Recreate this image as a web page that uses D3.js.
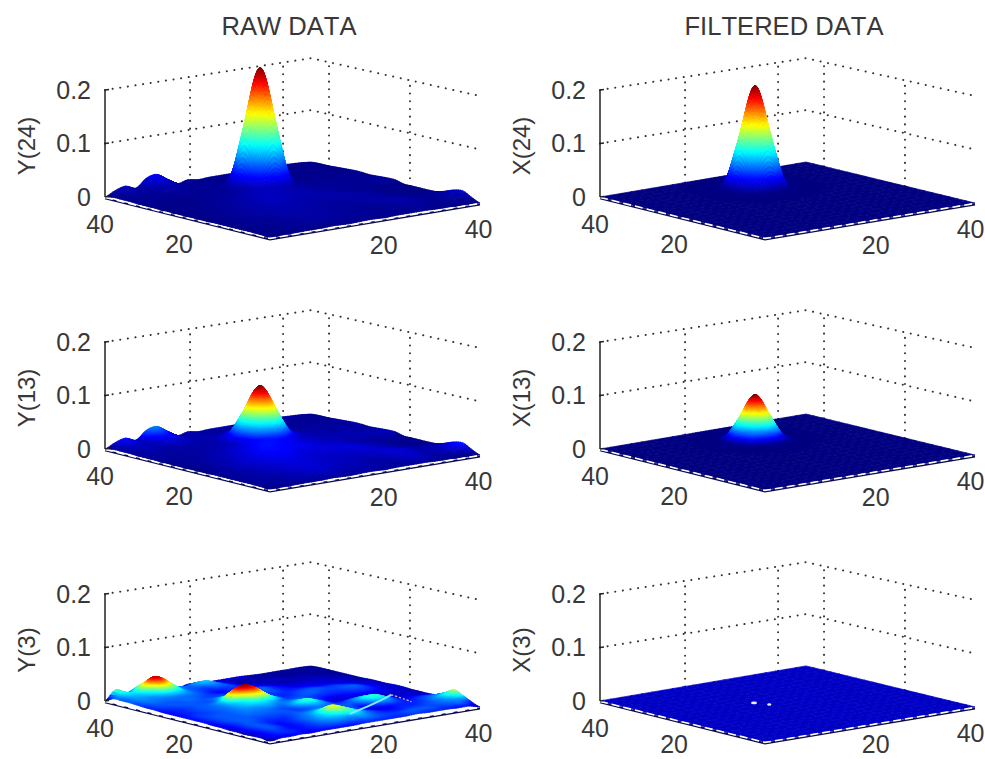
<!DOCTYPE html>
<html><head><meta charset="utf-8">
<script src="https://cdn.jsdelivr.net/npm/d3@7/dist/d3.min.js"></script>
<style>html,body{margin:0;background:#fff}svg{display:block}text{font-family:"Liberation Sans",Arial,sans-serif;fill:#383838;font-kerning:none}</style>
</head><body><div id="chart"></div>
<script>
// ---- data: surface heights, in thousandths, rows along the left floor edge, columns along the right floor edge
const columnTitles = ["RAW DATA", "FILTERED DATA"];
const rawLabels = ["Y(24)", "Y(13)", "Y(3)"];
const filteredLabels = ["X(24)", "X(13)", "X(3)"];
const zTicks = [0, 0.1, 0.2];
const zTickLabels = ["0", "0.1", "0.2"];
const floorTicks = [20, 40];
const floorUDomain = [2.7, 44.45];
const floorVDomain = [1.72, 46.0];

const rawBackground = [
[0,1,1,2,2,2,3,2,2,3,3,2,3,3,3,3,2,2,1,1,0],
[1,2,3,3,4,4,5,5,4,4,5,4,4,3,4,5,4,3,3,4,7],
[2,3,3,4,5,6,7,7,6,5,5,4,4,4,5,7,6,4,5,9,15],
[2,3,3,4,5,6,8,8,7,6,6,5,4,4,6,8,7,5,5,8,13],
[2,3,4,5,6,7,8,9,8,7,6,6,5,6,7,9,8,5,4,5,7],
[2,3,4,5,6,8,9,9,8,7,7,6,6,7,8,8,6,4,3,3,2],
[2,3,4,5,7,8,9,10,9,8,7,7,7,8,8,7,5,3,2,1,1],
[2,3,4,6,7,9,10,11,10,9,8,8,8,9,9,7,5,3,2,1,1],
[1,3,4,6,8,9,11,12,12,10,9,9,9,9,8,6,4,3,2,2,1],
[1,2,4,5,7,9,11,13,13,12,10,10,9,8,7,5,4,3,3,3,1],
[1,2,3,5,6,8,10,13,14,13,12,11,9,7,6,5,4,4,4,5,5],
[1,2,3,4,5,7,9,12,14,14,13,11,9,7,6,5,5,5,5,5,5],
[1,2,3,3,5,6,8,10,12,13,12,10,8,6,5,5,5,5,4,4,4],
[1,2,3,3,4,5,6,8,10,10,10,9,7,5,5,4,4,4,4,3,3],
[2,3,3,3,3,4,5,6,7,8,8,7,6,5,4,4,4,3,3,3,4],
[2,3,3,3,3,4,4,5,6,6,6,6,5,5,4,3,3,3,3,3,4],
[2,4,4,3,4,4,4,4,5,5,5,5,4,4,3,3,3,3,3,3,3],
[3,4,5,4,5,6,5,4,4,4,4,4,3,3,3,3,3,2,2,2,2],
[3,5,6,5,8,10,7,4,4,3,3,3,3,3,3,3,2,2,2,2,1],
[3,7,9,6,13,16,9,4,4,3,3,3,3,3,3,3,3,3,2,2,1],
[0,9,14,7,22,26,14,2,6,3,4,4,4,4,4,5,5,4,3,2,0]
];
const rawY3 = [
[0,4,4,5,4,5,5,5,5,6,6,6,6,6,7,6,6,6,5,5,0],
[3,5,6,6,5,6,7,8,8,8,9,8,7,7,8,8,8,7,8,9,6],
[3,5,7,6,5,6,8,10,11,11,12,9,7,6,6,7,7,8,9,11,14],
[2,5,8,7,5,6,8,11,14,18,17,11,7,5,5,6,6,7,9,14,21],
[3,6,8,7,5,6,8,10,15,24,18,10,6,4,5,6,6,6,8,10,12],
[3,6,8,7,6,6,7,9,11,14,12,9,7,5,10,11,7,5,6,6,4],
[4,6,8,8,7,7,7,8,8,9,9,8,8,9,15,16,9,4,3,3,2],
[4,7,8,8,8,8,8,8,7,9,11,9,6,8,11,11,6,3,3,3,2],
[5,7,8,8,9,9,9,8,8,13,17,11,5,3,4,4,3,3,3,3,2],
[5,7,8,8,9,10,10,11,9,10,12,9,6,4,4,5,5,5,4,3,3],
[5,7,7,8,9,11,13,14,13,9,8,8,7,6,6,6,7,7,5,3,3],
[5,6,7,8,9,12,16,24,24,14,7,7,8,8,7,7,8,8,5,3,2],
[5,6,7,8,9,14,30,38,30,12,7,6,7,8,8,7,7,6,4,3,2],
[5,6,7,8,8,9,16,20,13,8,7,7,6,6,6,5,5,4,3,2,2],
[6,7,8,8,8,8,9,9,8,7,8,8,6,5,4,4,3,3,3,2,1],
[6,8,8,8,9,8,7,7,6,6,7,8,6,4,3,3,3,3,2,2,1],
[7,9,9,9,9,9,8,6,5,6,6,5,4,3,2,2,2,2,2,1,1],
[8,10,10,11,13,12,9,7,6,7,7,4,3,2,2,2,2,2,1,1,1],
[8,11,12,16,24,20,10,8,8,10,7,3,2,2,2,2,1,1,1,1,1],
[8,14,14,24,36,28,12,8,11,12,6,3,2,2,1,1,1,1,1,1,1],
[0,18,8,16,24,26,8,1,5,4,3,3,3,3,2,1,1,1,1,1,0]
];
// the bump of each panel, a 7x7 block of the same grid
const peakRow = 12, peakCol = 8;
const peakY24 = [[0,1,1,2,1,1,0],[1,2,10,22,10,2,1],[1,10,92,145,92,10,1],[2,22,145,222,145,22,2],[1,10,92,145,92,10,1],[1,2,10,22,10,2,1],[0,1,1,2,1,1,0]];
const peakY13 = [[1,1,2,3,2,1,1],[1,3,11,18,11,3,1],[2,11,43,66,43,11,2],[3,18,66,97,66,18,3],[2,11,43,66,43,11,2],[1,3,11,18,11,3,1],[1,1,2,3,2,1,1]];
const peakX24 = [[0,0,1,1,1,0,0],[0,2,9,18,9,2,0],[1,9,78,122,78,9,1],[1,18,122,194,122,18,1],[1,9,78,122,78,9,1],[0,2,9,18,9,2,0],[0,0,1,1,1,0,0]];
const peakX13 = [[0,0,0,1,0,0,0],[0,1,5,9,5,1,0],[0,5,34,54,34,5,0],[1,9,54,86,54,9,1],[0,5,34,54,34,5,0],[0,1,5,9,5,1,0],[0,0,0,1,0,0,0]];
const colourTopX3 = 3;       // X(3) has no peak of its own: the colour range is a little above its floor
const floorX3 = 0.2;
// white glints on X(3), and the thin trace on Y(3), as grid positions
const glintRowsX3 = [11.9, 10.7];
const glintColsX3 = [8.4, 8.9];
const traceRowsY3 = [3.4, 5, 6.9];
const traceColsY3 = [10.3, 13.8, 17.1];
const traceEndRowsY3 = [6.9, 5.4, 3.9];
const traceEndColsY3 = [17.1, 16.9, 16.6];
const rightColumnLabelShift = [0, -3];

// ---- build
const W = 985, H = 759, N = 20;
const columnOffsets = [0, 495], rowOffsets = [0, 252, 504];
const svg = d3.select("#chart").append("svg").attr("width", W).attr("height", H);

const xU = d3.scaleLinear().domain([0, 1]).range([0, -165]);
const yU = d3.scaleLinear().domain([0, 1]).range([0, -41]);
const xV = d3.scaleLinear().domain([0, 1]).range([0, 210]);
const yV = d3.scaleLinear().domain([0, 1]).range([0, -35]);
const zS = d3.scaleLinear().domain([0, 0.2]).range([0, -107]);
const tickU = d3.scaleLinear().domain(floorUDomain).range([0, 1]);
const tickV = d3.scaleLinear().domain(floorVDomain).range([0, 1]);
const gridF = d3.scaleLinear().domain([0, N]).range([0, 1]);
const OX = 270, OY = 238;
// slight perspective: the far corner sits a little nearer and lower
const proj = (fu, fv, z) => [
  OX + xU(fu) + xV(fv) - 4 * fu * fv,
  OY + yU(fu) + yV(fv) + zS(z) * (1 - 0.03 * fu * fv)
];
const line = d3.line();

const jet = d3.scaleLinear()
  .domain([0, 0.125, 0.375, 0.625, 0.875, 1])
  .range(["#000080", "#0000ff", "#00ffff", "#ffff00", "#ff0000", "#800000"])
  .clamp(true);

function withPeak(base, peak) {
  const m = base.map(r => r.slice());
  peak.forEach((r, a) => r.forEach((v, b) => { m[peakRow + a][peakCol + b] += v; }));
  return m;
}
const flat = v => d3.range(N + 1).map(() => d3.range(N + 1).map(() => v));

const panels = [
  {col: 0, row: 0, label: rawLabels[0], m: withPeak(rawBackground, peakY24)},
  {col: 0, row: 1, label: rawLabels[1], m: withPeak(rawBackground, peakY13)},
  {col: 0, row: 2, label: rawLabels[2], m: rawY3},
  {col: 1, row: 0, label: filteredLabels[0], m: withPeak(flat(0), peakX24)},
  {col: 1, row: 1, label: filteredLabels[1], m: withPeak(flat(0), peakX13)},
  {col: 1, row: 2, label: filteredLabels[2], m: flat(floorX3), top: colourTopX3}
];

const cr = (p0, p1, p2, p3, t) =>
  0.5 * (2 * p1 + (p2 - p0) * t + (2 * p0 - 5 * p1 + 4 * p2 - p3) * t * t + (3 * p1 - p0 - 3 * p2 + p3) * t * t * t);

function sampler(m) {
  const at = (i, j) => m[Math.max(0, Math.min(N, i))][Math.max(0, Math.min(N, j))];
  return (a, b) => {
    const i = Math.min(N - 1, Math.floor(a)), j = Math.min(N - 1, Math.floor(b));
    const s = a - i, t = b - j;
    const rows = [-1, 0, 1, 2].map(d => cr(at(i + d, j - 1), at(i + d, j), at(i + d, j + 1), at(i + d, j + 2), t));
    return Math.max(0, cr(rows[0], rows[1], rows[2], rows[3], s));
  };
}

function cellsOf(m, top) {
  const h = sampler(m), cells = [];
  for (let i = 0; i < N; i++) for (let j = 0; j < N; j++) {
    const near = [];
    for (let a = -1; a <= 2; a++) for (let b = -1; b <= 2; b++)
      near.push(m[Math.max(0, Math.min(N, i + a))][Math.max(0, Math.min(N, j + b))]);
    const [lo, hi] = d3.extent(near);
    const S = hi - lo < 0.01 ? 1 : hi - lo > 18 ? 12 : 4;
    for (let a = 0; a < S; a++) for (let b = 0; b < S; b++) {
      const a0 = i + a / S, a1 = i + (a + 1) / S, b0 = j + b / S, b1 = j + (b + 1) / S;
      const q = [[a0, b0], [a1, b0], [a1, b1], [a0, b1]].map(([p, r]) => ({p, r, z: h(p, r)}));
      cells.push({depth: a0 + b0, q, c: d3.mean(q, d => d.z) / top});
    }
  }
  return cells.sort((x, y) => y.depth - x.depth);
}

panels.forEach(P => {
  const g = svg.append("g").attr("transform", `translate(${columnOffsets[P.col]},${rowOffsets[P.row]})`);
  const dotted = sel => sel.attr("fill", "none").attr("stroke", "#333").attr("stroke-width", 2)
    .attr("stroke-linecap", "round").attr("stroke-dasharray", "0.1 7.6");
  // floor labels stay inside the picture, descent included
  const lowest = H - 6 - rowOffsets[P.row];

  // back walls
  g.selectAll("path.wallZ").data(zTicks.filter(z => z > 0)).join("path").attr("class", "wallZ")
    .attr("d", z => line([proj(1, 0, z), proj(1, 1, z), proj(0, 1, z)])).call(dotted);
  g.selectAll("path.wallV").data(floorTicks).join("path").attr("class", "wallV")
    .attr("d", t => line([proj(1, tickV(t), 0), proj(1, tickV(t), 0.2)])).call(dotted);
  g.selectAll("path.wallU").data(floorTicks).join("path").attr("class", "wallU")
    .attr("d", t => line([proj(tickU(t), 1, 0), proj(tickU(t), 1, 0.2)])).call(dotted);

  // surface
  const top = P.top || d3.max(P.m.flat());
  g.append("g").selectAll("path").data(cellsOf(P.m, top)).join("path")
    .attr("d", d => line(d.q.map(v => proj(gridF(v.p), gridF(v.r), v.z / 1000))) + "Z")
    .attr("fill", d => jet(d.c)).attr("stroke", d => jet(d.c)).attr("stroke-width", 0.7);

  // front edges: a dark rim with white dashes just inside it
  const front = [proj(1, 0, 0), proj(0, 0, 0), proj(0, 1, 0)];
  g.append("path").attr("d", line(front)).attr("transform", "translate(0,1.4)")
    .attr("fill", "none").attr("stroke", "#0a0a50").attr("stroke-width", 2);
  g.append("path").attr("d", line(front)).attr("transform", "translate(0,0.4)")
    .attr("fill", "none").attr("stroke", "#fff").attr("stroke-width", 1.6).attr("stroke-dasharray", "8 4");

  // vertical axis
  g.append("path").attr("d", line([proj(1, 0, 0), proj(1, 0, 0.2)]))
    .attr("stroke", "#222").attr("stroke-width", 1.5).attr("fill", "none");
  g.selectAll("path.tk").data(zTicks).join("path").attr("class", "tk")
    .attr("d", z => { const p = proj(1, 0, z); return line([p, [p[0] + 4, p[1] - 0.5]]); })
    .attr("stroke", "#222").attr("stroke-width", 1.3);
  g.selectAll("text.zt").data(zTicks).join("text").attr("class", "zt")
    .attr("x", z => proj(1, 0, z)[0] - 14).attr("y", z => proj(1, 0, z)[1] + 8.5)
    .attr("text-anchor", "end").attr("font-size", 25).text((z, i) => zTickLabels[i]);

  // floor tick labels
  g.selectAll("text.ut").data(floorTicks).join("text").attr("class", "ut")
    .attr("x", t => proj(tickU(t), 0, 0)[0] - 22.5).attr("y", t => Math.min(lowest, proj(tickU(t), 0, 0)[1] + 32))
    .attr("text-anchor", "middle").attr("font-size", 25).text(t => t);
  g.selectAll("text.vt").data(floorTicks).join("text").attr("class", "vt")
    .attr("x", t => proj(0, tickV(t), 0)[0] + 27 + rightColumnLabelShift[P.col]).attr("y", t => Math.min(lowest, proj(0, tickV(t), 0)[1] + 30))
    .attr("text-anchor", "middle").attr("font-size", 25).text(t => t);

  // vertical label
  g.append("text").attr("transform", "translate(35,146) rotate(-90)")
    .attr("text-anchor", "middle").attr("font-size", 24).text(P.label);

  if (P.m === rawY3) {
    const pts = (rs, cs) => rs.map((r, k) => proj(gridF(r), gridF(cs[k]), 0.006));
    g.append("path").attr("d", d3.line().curve(d3.curveBasis)(pts(traceRowsY3, traceColsY3)))
      .attr("fill", "none").attr("stroke", "#7fe8ff").attr("stroke-width", 2);
    g.append("path").attr("d", d3.line().curve(d3.curveBasis)(pts(traceEndRowsY3, traceEndColsY3)))
      .attr("fill", "none").attr("stroke", "#f0b0c8").attr("stroke-width", 1.2).attr("stroke-dasharray", "2 2");
  }
  if (P.top) {
    g.selectAll("ellipse").data(glintRowsX3).join("ellipse")
      .attr("cx", (r, k) => proj(gridF(r), gridF(glintColsX3[k]), 0)[0])
      .attr("cy", (r, k) => proj(gridF(r), gridF(glintColsX3[k]), 0)[1])
      .attr("rx", (r, k) => k ? 2 : 3).attr("ry", 1.3).attr("fill", "#e8f0ff");
  }
});

svg.selectAll("text.title").data(columnTitles).join("text").attr("class", "title")
  .attr("x", (d, i) => 289 + columnOffsets[i]).attr("y", 35)
  .attr("text-anchor", "middle").attr("font-size", 25.6).text(d => d);
</script></body></html>
